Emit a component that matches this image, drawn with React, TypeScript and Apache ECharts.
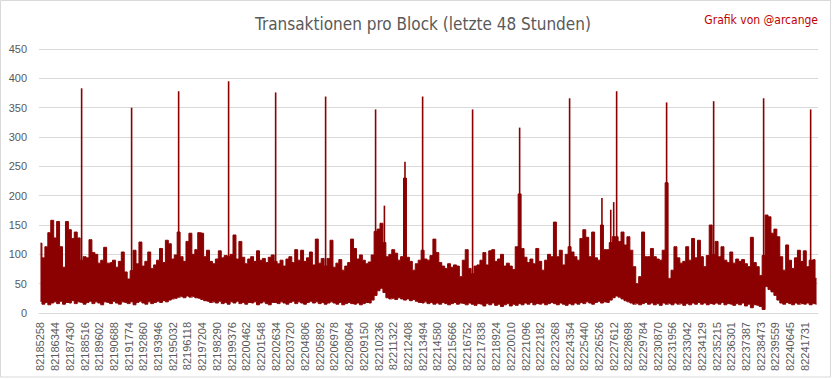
import React, { useEffect, useRef } from "react";
import * as echarts from "echarts";

// Block numbers shown on the x axis (one every 1086 blocks)
const tickLabels = [
  "82185258", "82186344", "82187430", "82188516", "82189602", "82190688", "82191774", "82192860",
  "82193946", "82195032", "82196118", "82197204", "82198290", "82199376", "82200462", "82201548",
  "82202634", "82203720", "82204806", "82205892", "82206978", "82208064", "82209150", "82210236",
  "82211322", "82212408", "82213494", "82214580", "82215666", "82216752", "82217838", "82218924",
  "82220010", "82221096", "82222182", "82223268", "82224354", "82225440", "82226526", "82227612",
  "82228698", "82229784", "82230870", "82231956", "82233042", "82234129", "82235215", "82236301",
  "82237387", "82238473", "82239559", "82240645", "82241731",
];

// Each tick interval is split into 5 buckets; per bucket: highest and lowest tx count
const envelopeHigh = [
  119, 94, 113, 137, 158,
  128, 156, 113, 78, 156,
  142, 127, 138, 128, 90,
  96, 94, 125, 103, 100,
  85, 90, 112, 85, 86,
  90, 78, 88, 104, 70,
  58, 72, 107, 84, 121,
  80, 88, 104, 76, 82,
  90, 110, 86, 124, 118,
  92, 99, 138, 96, 88,
  122, 136, 100, 108, 137,
  136, 96, 107, 88, 84,
  92, 106, 94, 98, 96,
  100, 133, 92, 122, 95,
  84, 92, 96, 88, 106,
  90, 93, 86, 95, 99,
  88, 84, 90, 80, 92,
  96, 86, 108, 90, 107,
  88, 94, 104, 82, 126,
  85, 93, 80, 93, 124,
  78, 85, 91, 73, 80,
  86, 126, 110, 92, 99,
  90, 84, 87, 99, 139,
  143, 153, 120, 96, 100,
  108, 102, 90, 96, 230,
  95, 88, 73, 84, 90,
  107, 92, 90, 98, 126,
  103, 86, 80, 76, 84,
  78, 82, 80, 62, 90,
  108, 76, 67, 80, 82,
  90, 103, 82, 106, 108,
  88, 92, 100, 80, 85,
  80, 74, 113, 203, 110,
  95, 86, 92, 84, 110,
  88, 73, 90, 100, 96,
  155, 96, 107, 82, 100,
  113, 104, 96, 90, 127,
  142, 129, 96, 138, 94,
  90, 150, 108, 108, 120,
  130, 130, 122, 138, 116,
  130, 107, 79, 50, 62,
  138, 96, 96, 110, 96,
  92, 90, 107, 222, 59,
  73, 113, 94, 85, 88,
  113, 90, 127, 94, 124,
  96, 79, 98, 150, 100,
  122, 96, 113, 90, 86,
  104, 85, 92, 88, 91,
  84, 79, 129, 86, 79,
  64, 98, 167, 164, 136,
  143, 130, 96, 73, 116,
  90, 76, 94, 107, 88,
  106, 79, 90, 91, 59,
];

const envelopeLow = [
  20, 15, 18, 14, 17,
  19, 16, 20, 15, 18,
  17, 21, 16, 19, 18,
  15, 18, 20, 16, 19,
  17, 14, 19, 18, 16,
  20, 17, 15, 19, 18,
  16, 19, 14, 18, 20,
  17, 15, 19, 16, 18,
  20, 18, 21, 19, 22,
  24, 25, 27, 28, 26,
  29, 27, 28, 26, 25,
  23, 21, 20, 18, 19,
  17, 20, 16, 18, 15,
  19, 17, 20, 16, 18,
  15, 18, 17, 19, 14,
  17, 19, 16, 14, 18,
  18, 16, 19, 17, 15,
  18, 20, 16, 19, 17,
  15, 18, 20, 17, 19,
  16, 18, 15, 17, 19,
  17, 15, 18, 14, 16,
  18, 16, 15, 17, 14,
  16, 18, 17, 22, 30,
  38, 42, 35, 26, 24,
  25, 23, 26, 24, 22,
  24, 21, 23, 20, 18,
  17, 19, 16, 18, 15,
  17, 15, 18, 16, 14,
  16, 18, 15, 17, 16,
  14, 17, 15, 13, 16,
  15, 12, 16, 14, 17,
  13, 15, 11, 14, 16,
  12, 15, 13, 16, 14,
  17, 15, 18, 14, 16,
  15, 17, 14, 16, 18,
  16, 14, 17, 15, 13,
  16, 14, 17, 15, 18,
  16, 19, 17, 15, 18,
  20, 17, 19, 18, 22,
  26, 29, 27, 24, 21,
  19, 17, 15, 16, 14,
  16, 18, 15, 17, 14,
  16, 13, 17, 15, 16,
  14, 17, 15, 16, 13,
  16, 14, 17, 15, 18,
  15, 17, 14, 16, 15,
  17, 15, 18, 14, 16,
  15, 13, 16, 14, 17,
  12, 15, 9, 14, 13,
  11, 6, 45, 40, 36,
  30, 22, 17, 15, 18,
  16, 14, 17, 15, 16,
  15, 17, 14, 16, 15,
];

// Isolated single-block spikes (bucket index, tx count)
const spikeColumns = [14, 31, 47, 64, 80, 97, 114, 117, 124, 130, 147, 163, 180, 191, 194, 195, 196, 213, 229, 246, 262];
const spikeValues = [383, 350, 378, 395, 376, 369, 347, 183, 258, 369, 347, 316, 366, 196, 176, 189, 378, 359, 361, 366, 347];

const COLUMNS_PER_TICK = 5;
const RED = "#8B0000";
const FONT = "'Liberation Sans', Arial, sans-serif";
const TITLE_FONT = "'Liberation Sans Narrow', 'DejaVu Sans Condensed', sans-serif";

export default function App() {
  const ref = useRef<HTMLDivElement>(null);

  useEffect(() => {
    if (!ref.current) return;
    const chart = echarts.init(ref.current, null, { renderer: "svg" });

    const categories = envelopeHigh.map((_, i) => {
      const t = tickLabels[Math.floor(i / COLUMNS_PER_TICK)];
      return i % COLUMNS_PER_TICK === 0 ? t : `${t}#${i % COLUMNS_PER_TICK}`;
    });
    const rangeData = envelopeHigh.map((h, i) => h - envelopeLow[i]);
    const spikeData: (number | string)[] = envelopeHigh.map(() => "-");
    const spikeBase: (number | string)[] = envelopeHigh.map(() => "-");
    spikeColumns.forEach((c, k) => {
      spikeBase[c] = envelopeLow[c];
      spikeData[c] = spikeValues[k] - envelopeLow[c];
    });

    chart.setOption({
      animation: false,
      backgroundColor: "#ffffff",
      textStyle: { fontFamily: FONT },
      title: [
        {
          text: "Transaktionen pro Block (letzte 48 Stunden)",
          left: 418,
          textAlign: "center",
          top: 10,
          textStyle: { color: "#595959", fontSize: 17, fontWeight: "normal", fontFamily: TITLE_FONT },
        },
        {
          text: "Grafik von @arcange",
          right: 10,
          top: 9,
          textStyle: { color: "#C00000", fontSize: 12, fontWeight: "normal", fontFamily: TITLE_FONT },
        },
      ],
      graphic: [
        {
          type: "rect",
          shape: { x: 0.5, y: 0.5, width: 830, height: 376.5 },
          style: { fill: "none", stroke: "#D9D9D9", lineWidth: 1 },
          silent: true,
        },
      ],
      grid: { left: 39, right: 15, top: 49, bottom: 66 },
      xAxis: [
        {
          type: "category",
          data: categories,
          boundaryGap: true,
          axisLine: { lineStyle: { color: "#D9D9D9" } },
          axisTick: { show: false },
          axisLabel: {
            interval: COLUMNS_PER_TICK - 1,
            rotate: 90,
            margin: 9,
            color: "#595959",
            fontSize: 11,
            fontFamily: FONT,
          },
          splitLine: { show: false },
        },
        { type: "category", data: categories, boundaryGap: true, show: false },
      ],
      yAxis: {
        type: "value",
        min: 0,
        max: 450,
        interval: 50,
        axisLine: { show: false },
        axisTick: { show: false },
        axisLabel: { color: "#595959", fontSize: 11, margin: 12, fontFamily: FONT },
        splitLine: { lineStyle: { color: "#D9D9D9", width: 1 } },
      },
      series: [
        {
          type: "line",
          stack: "env",
          step: "middle",
          xAxisIndex: 0,
          data: envelopeLow,
          symbol: "none",
          lineStyle: { color: RED, width: 1 },
          silent: true,
        },
        {
          type: "line",
          stack: "env",
          step: "middle",
          xAxisIndex: 0,
          data: rangeData,
          symbol: "none",
          lineStyle: { color: RED, width: 1 },
          areaStyle: { color: RED, opacity: 1 },
          silent: true,
        },
        {
          type: "bar",
          stack: "spk",
          xAxisIndex: 1,
          data: spikeBase,
          barWidth: 1.6,
          itemStyle: { color: "rgba(0,0,0,0)" },
          silent: true,
        },
        {
          type: "bar",
          stack: "spk",
          xAxisIndex: 1,
          data: spikeData,
          barWidth: 1.6,
          itemStyle: { color: RED },
          silent: true,
        },
      ],
    });

    return () => chart.dispose();
  }, []);

  return (
    <div
      ref={ref}
      style={{ position: "fixed", left: 0, top: 0, width: 833, height: 379, background: "#fff" }}
    />
  );
}
